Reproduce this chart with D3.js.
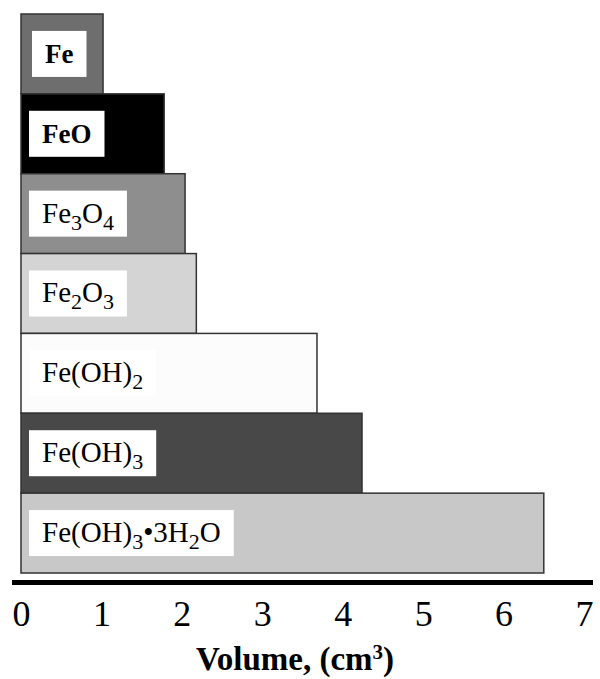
<!DOCTYPE html>
<html>
<head>
<meta charset="utf-8">
<script src="https://cdn.jsdelivr.net/npm/d3@7"></script>
<style>
  body { margin: 0; background: #fff; }
  svg { display: block; }
  text { font-family: "Liberation Serif", "Times New Roman", serif; fill: #000; }
</style>
</head>
<body>
<script>
// each label is a list of [text, isSubscript] parts
var compounds = ["Fe", "FeO", "Fe3O4", "Fe2O3", "Fe(OH)2", "Fe(OH)3", "Fe(OH)3.3H2O"];
var labels = [
  [["Fe", 0]],
  [["FeO", 0]],
  [["Fe", 0], ["3", 1], ["O", 0], ["4", 1]],
  [["Fe", 0], ["2", 1], ["O", 0], ["3", 1]],
  [["Fe(OH)", 0], ["2", 1]],
  [["Fe(OH)", 0], ["3", 1]],
  [["Fe(OH)", 0], ["3", 1], ["\u20223H", 0], ["2", 1], ["O", 0]]
];
var volumes = [1.02, 1.78, 2.04, 2.18, 3.68, 4.24, 6.5];
var fills = ["#6e6e6e", "#000000", "#8e8e8e", "#d4d4d4", "#fcfcfc", "#484848", "#c8c8c8"];
var boldLabel = [true, true, false, false, false, false, false];
var xTicks = [0, 1, 2, 3, 4, 5, 6, 7];

var width = 600,
    height = 679;

var svg = d3.select("body").append("svg")
    .attr("width", width)
    .attr("height", height);

var x = d3.scaleLinear()
    .domain([0, 7])
    .range([21, 584]);

var y = d3.scaleBand()
    .domain(compounds)
    .range([14, 573])
    .padding(0);

var rows = svg.selectAll(".row")
    .data(compounds)
  .enter().append("g")
    .attr("class", "row")
    .attr("transform", function(d) { return "translate(0," + y(d) + ")"; });

rows.append("rect")
    .attr("x", x(0))
    .attr("y", 0)
    .attr("width", function(d, i) { return x(volumes[i]) - x(0); })
    .attr("height", y.bandwidth())
    .attr("fill", function(d, i) { return fills[i]; })
    .attr("stroke", "#333")
    .attr("stroke-width", 1.5);

var box = rows.append("rect")
    .attr("fill", "#fff");

var label = rows.append("text")
    .attr("x", function(d, i) { return i == 0 ? x(0) + 24 : x(0) + 21; })
    .attr("y", y.bandwidth() / 2 + 9)
    .style("font-size", function(d, i) { return boldLabel[i] ? "27px" : "29px"; })
    .style("font-weight", function(d, i) { return boldLabel[i] ? "bold" : "normal"; });

label.each(function(d, i) {
  var t = d3.select(this);
  labels[i].forEach(function(p, j) {
    var prev = j > 0 ? labels[i][j - 1][1] : 0;
    t.append("tspan")
        .text(p[0])
        .attr("dy", p[1] ? 7 : (prev ? -7 : 0))
        .style("font-size", p[1] ? "22px" : null);
  });
});

box.each(function(d, i) {
  var bb = label.nodes()[i].getBBox();
  d3.select(this)
      .attr("x", bb.x - 13)
      .attr("y", y.bandwidth() / 2 - 23)
      .attr("width", bb.width + 26)
      .attr("height", 46);
});

// axis
var axisY = 582.5;
svg.append("line")
    .attr("x1", x(0) - 9)
    .attr("x2", x(7) + 9)
    .attr("y1", axisY)
    .attr("y2", axisY)
    .attr("stroke", "#000")
    .attr("stroke-width", 5);

var axis = svg.append("g")
    .attr("transform", "translate(0," + axisY + ")")
    .call(d3.axisBottom(x).tickValues(xTicks).tickSize(0).tickPadding(0).tickFormat(d3.format("d")));

axis.select(".domain").remove();
axis.selectAll("text")
    .attr("y", 0)
    .attr("dy", 43)
    .style("font-family", "'Liberation Serif', serif")
    .style("font-size", "36px")
    .attr("fill", "#000");

var title = svg.append("text")
    .attr("x", 295)
    .attr("y", 670)
    .attr("text-anchor", "middle")
    .style("font-size", "33px")
    .style("font-weight", "bold");
title.append("tspan").text("Volume, (cm");
title.append("tspan").text("3").attr("dy", -11).style("font-size", "21px");
title.append("tspan").text(")").attr("dy", 11);
</script>
</body>
</html>
